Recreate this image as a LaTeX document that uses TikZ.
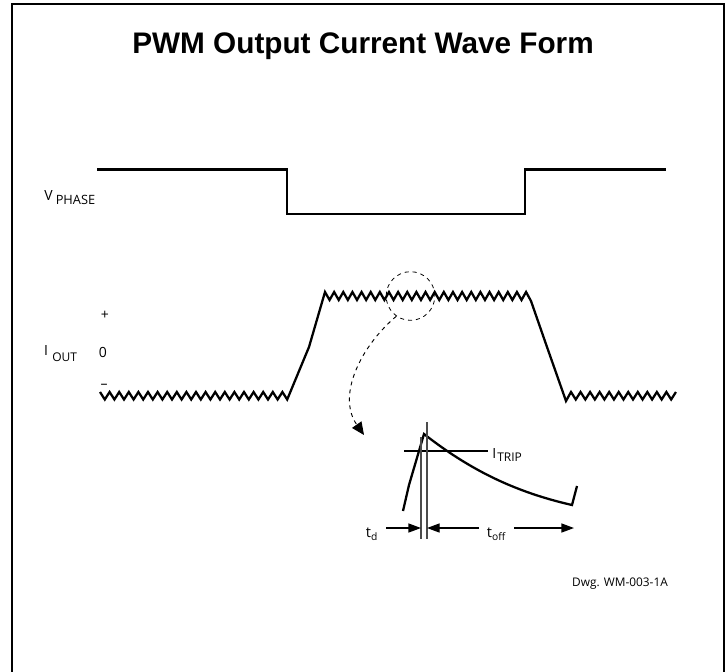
\documentclass[tikz,border=0pt]{standalone}
\usepackage{fontspec}
\setmainfont{Open Sans}
\newfontfamily\titlefont{Liberation Sans}
\usetikzlibrary{arrows.meta}

\begin{document}
\begin{tikzpicture}[x=0.75pt,y=-0.75pt,
	trace/.style = {draw, line width=1.7pt, line join=miter},
	frameline/.style = {draw, line width=2pt},
	thinline/.style = {draw, line width=0.8pt},
	marker/.style = {draw=black!70, line width=1.1pt},
	dim/.style = {draw, line width=1pt, -{Triangle[length=9.5pt,width=6.8pt]}},
	lbl/.style = {inner sep=0pt, font=\fontsize{10.5}{12}\selectfont},
	sublbl/.style = {inner sep=0pt, anchor=west, font=\fontsize{9}{10}\selectfont}
	]
	\useasboundingbox (0,0) rectangle (726,672);
	\coordinate (fa) at (12,672);
	\coordinate (fb) at (12,4);
	\coordinate (fc) at (724,4);
	\coordinate (fd) at (724,672);
	\draw[frameline] (fa) -- (fb) -- (fc) -- (fd);
	\node [inner sep=0pt, anchor=base, font=\titlefont\bfseries\fontsize{22.3}{24}\selectfont] (title) at (363,53) {PWM Output Current Wave Form};
	% phase voltage
	\coordinate (v0) at (97,169.5);
	\coordinate (v1) at (287,169.5);
	\coordinate (v2) at (287,214);
	\coordinate (v3) at (525,214);
	\coordinate (v4) at (525,169.5);
	\coordinate (v5) at (666,169.5);
	\draw[trace] (v0) -- (v1) -- (v2) -- (v3) -- (v4) -- (v5);
	\node [lbl] (vlabel) at (48.5,195) {V};
	\node [sublbl, font=\fontsize{9.6}{10}\selectfont] (vsub) at (55.5,199.5) {PHASE};
	% output current
	\node [lbl] (plus) at (105,315) {+};
	\node [lbl] (zero) at (103,352) {0};
	\node [lbl] (minus) at (104,386) {–};
	\node [lbl] (ilabel) at (46,350) {I};
	\node [sublbl] (isub) at (52,357) {OUT};
	\coordinate (a) at (100,392);
	\coordinate (c) at (309,347);
	\coordinate (d) at (325,292);
	\coordinate (g) at (531,301);
	\coordinate (h) at (547,347);
	\coordinate (i) at (566,401);
	\draw[trace] (a) \foreach \n in {1,...,19} {-- ++(4.8,7.5) -- ++(4.8,-7.5)} -- ++(4.8,7.5)
		-- (c) -- (d) \foreach \n in {1,...,22} {-- ++(4.57,8) -- ++(4.57,-8)}
		-- (g) -- (h) -- (i) -- ++(5,-9) \foreach \n in {1,...,11} {-- ++(4.77,7.5) -- ++(4.77,-7.5)};
	% zoom circle
	\node [circle, draw, dashed, line width=0.6pt, minimum size=36.5pt, inner sep=0pt] (ring) at (410.5,296) {};
	\coordinate (tip) at (364,435);
	\draw[dashed, line width=0.7pt, -{Triangle[length=9.5pt,width=8.5pt]}] (ring.235) .. controls (362,345) and (336,395) .. (tip);
	% detail
	\coordinate (s0) at (403,511);
	\coordinate (s1) at (409,485);
	\coordinate (s2) at (424,434);
	\coordinate (s3) at (572,505);
	\coordinate (s4) at (577,486);
	\draw[trace] (s0) -- (s1) -- (s2) .. controls (470,470) and (515,492) .. (s3) -- (s4);
	\coordinate (t0) at (404,451);
	\coordinate (t1) at (488,451);
	\draw[thinline] (t0) -- (t1);
	\node [lbl, anchor=west] (itrip) at (492,453) {I};
	\node [sublbl] (itripsub) at (497,457.5) {TRIP};
	\coordinate (m0) at (421,437);
	\coordinate (m1) at (421,539);
	\coordinate (m2) at (427,422);
	\coordinate (m3) at (427,539);
	\draw[marker] (m0) -- (m1);
	\draw[marker] (m2) -- (m3);
	\coordinate (p0) at (386,528);
	\coordinate (p1) at (421,528);
	\coordinate (p2) at (479,528);
	\coordinate (p3) at (427,528);
	\coordinate (p4) at (514,528);
	\coordinate (p5) at (574,528);
	\draw[dim] (p0) -- (p1);
	\draw[dim] (p2) -- (p3);
	\draw[dim] (p4) -- (p5);
	\node [lbl, font=\fontsize{11}{12}\selectfont] (td) at (372,534) {t\textsubscript{d}};
	\node [lbl, font=\fontsize{11}{12}\selectfont] (toff) at (496.5,534) {t\textsubscript{off}};
	\node [inner sep=0pt, font=\fontsize{8.9}{10}\selectfont] (dwg) at (620,584) {Dwg. WM-003-1A};
\end{tikzpicture}
\end{document}
